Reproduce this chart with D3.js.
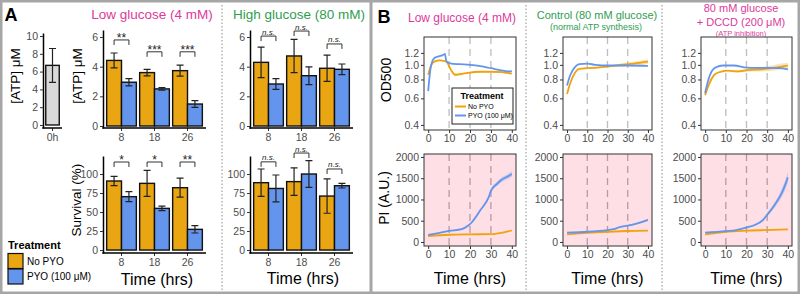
<!DOCTYPE html>
<html>
<head>
<meta charset="utf-8">
<script src="https://cdn.jsdelivr.net/npm/d3@7"></script>
<style>
  body { margin: 0; background: #fff; }
  svg { display: block; font-family: "Liberation Sans", Arial, sans-serif; }
</style>
</head>
<body>
<div id="fig"></div>
<script>
// ---------- data ----------
const groups = ['8', '18', '26'];
const treatments = ['No PYO', 'PYO (100 μM)'];

// [group, No PYO mean, sd, PYO mean, sd]
const atp0h = [['0h', 6.7, 1.9]];
const atpLow = [['8', 4.42, 0.5, 2.95, 0.24], ['18', 3.6, 0.22, 2.5, 0.08], ['26', 3.73, 0.37, 1.48, 0.23]];
const atpHigh = [['8', 4.29, 1.03, 2.83, 0.36], ['18', 4.72, 1.12, 3.39, 0.6], ['26', 3.89, 0.88, 3.82, 0.36]];
const survLow = [['8', 90.8, 6, 70.2, 6.6], ['18', 87.7, 17, 54.8, 3], ['26', 82, 12.5, 27.2, 4.8]];
const survHigh = [['8', 88.6, 18, 81, 17.7], ['18', 90, 18, 100, 17.5], ['26', 71, 22.6, 84.6, 3]];

// significance label + bracket height (data units)
const sigAtpLow = [['**', 5.8], ['***', 5.0], ['***', 5.0]];
const sigAtpHigh = [['n.s.', 6.06], ['n.s.', 6.4], ['n.s.', 5.53]];
const sigSurvLow = [['*', 115.8], ['*', 115.8], ['**', 115.8]];
const sigSurvHigh = [['n.s.', 116], ['n.s.', 127.6], ['n.s.', 106.6]];

const atpTicks = [0, 2, 4, 6];
const atp0hTicks = [0, 2, 4, 6, 8, 10];
const survTicks = [0, 25, 50, 75, 100];

// growth curves: [time (h), value, ribbon half-width]
const odLowNo = [[0, 0.86, 0.01], [1.5, 1.0, 0.01], [3, 1.05, 0.01], [5.5, 1.07, 0.01], [8, 1.06, 0.01], [9, 1.04, 0.015], [11, 0.92, 0.02], [13, 0.86, 0.02], [16, 0.87, 0.01], [19, 0.885, 0.01], [25, 0.9, 0.01], [30, 0.9, 0.01], [35, 0.895, 0.01], [40, 0.875, 0.01]];
const odLowPyo = [[0, 0.67, 0.005], [1, 0.92, 0.005], [2, 1.06, 0.005], [3, 1.11, 0.005], [5, 1.14, 0.005], [7, 1.16, 0.005], [8, 1.18, 0.005], [8.6, 1.07, 0.005], [9.2, 1.04, 0.005], [11, 1.02, 0.005], [15, 1.01, 0.005], [20, 1.0, 0.005], [25, 0.98, 0.005], [30, 0.95, 0.005], [35, 0.92, 0.005], [38, 0.905, 0.005], [40, 0.91, 0.005]];
const odCtlNo = [[0, 0.64, 0.01], [1.5, 0.75, 0.01], [4, 0.89, 0.01], [6, 0.94, 0.01], [10, 0.95, 0.01], [15, 0.96, 0.01], [20, 0.975, 0.012], [27, 1.0, 0.025], [33, 1.02, 0.03], [40, 1.05, 0.035]];
const odCtlPyo = [[0, 0.73, 0.005], [1.5, 0.85, 0.005], [4, 0.97, 0.005], [6, 1.01, 0.005], [10, 1.02, 0.005], [14, 1.0, 0.005], [20, 0.99, 0.005], [30, 0.99, 0.005], [40, 0.985, 0.005]];
const odDccdNo = [[0, 0.63, 0.01], [2, 0.75, 0.01], [4.5, 0.86, 0.01], [7.5, 0.9, 0.01], [11, 0.915, 0.01], [16, 0.905, 0.015], [21, 0.925, 0.02], [27, 0.935, 0.03], [33, 0.955, 0.04], [37, 0.975, 0.045], [40, 0.99, 0.04]];
const odDccdPyo = [[0, 0.65, 0.005], [1.5, 0.79, 0.005], [3.5, 0.92, 0.005], [6, 0.975, 0.005], [9, 0.99, 0.005], [14, 0.99, 0.005], [20, 0.96, 0.005], [25, 0.955, 0.005], [30, 0.955, 0.005], [36, 0.95, 0.008], [40, 0.935, 0.01]];

const piLowNo = [[0, 140, 5], [10, 170, 5], [20, 180, 5], [30, 185, 5], [35, 215, 5], [40, 270, 8]];
const piLowPyo = [[0, 165, 10], [5, 210, 10], [10, 260, 10], [16, 300, 15], [19, 380, 20], [21, 470, 25], [25, 750, 30], [29, 1060, 40], [30, 1200, 45], [33, 1370, 50], [35, 1460, 55], [38, 1540, 60], [40, 1600, 65]];
const piCtlNo = [[0, 180, 5], [10, 215, 5], [20, 240, 5], [30, 258, 5], [40, 267, 5]];
const piCtlPyo = [[0, 220, 8], [10, 240, 8], [20, 280, 10], [23, 300, 10], [26, 350, 12], [30, 385, 15], [33, 415, 15], [36, 455, 18], [40, 520, 25]];
const piDccdNo = [[0, 180, 5], [10, 240, 5], [20, 265, 5], [30, 280, 5], [40, 295, 5]];
const piDccdPyo = [[0, 220, 8], [10, 255, 10], [15, 280, 10], [20, 340, 15], [24, 400, 20], [28, 520, 30], [30, 640, 40], [33, 830, 60], [36.5, 1100, 90], [39, 1380, 120], [40, 1520, 130]];

const timeTicks = [0, 10, 20, 30, 40];
const odTicks = [0.4, 0.6, 0.8, 1.0, 1.2];
const piTicks = [0, 500, 1000, 1500, 2000];
const markerTimes = [10, 20, 30];

// ---------- drawing ----------
const orange = '#EAA512';
const blue = '#6495ED';
const lineOrange = '#F0A30A';
const magenta = '#DC3A9C';
const green = '#2E9E50';
const tickGray = '#4d4d4d';

const svg = d3.select('#fig').append('svg').attr('width', 800).attr('height', 294);

function text(x, y, str, o = {}) {
  const t = svg.append('text')
    .attr('x', x).attr('y', y)
    .attr('font-size', o.size || 12)
    .attr('fill', o.fill || '#000')
    .attr('text-anchor', o.anchor || 'middle')
    .text(str);
  if (o.bold) t.attr('font-weight', 700);
  if (o.italic) t.attr('font-style', 'italic');
  if (o.rotate) t.attr('transform', `rotate(-90,${x},${y})`);
  return t;
}

function barPanel(opt) {
  const g = svg.append('g');
  const y = d3.scaleLinear().domain(opt.yDomain).range([opt.yBot, opt.yTop]);
  const cats = opt.rows.map((r) => r[0]);
  const x = d3.scaleBand().domain(cats).range([opt.x0 + 2, opt.x1]).paddingInner(0.1).paddingOuter(0.05);
  const nSer = opt.fills.length;
  const sub = d3.scaleBand().domain(d3.range(nSer)).range([0, x.bandwidth()]);

  opt.rows.forEach((r) => {
    for (let i = 0; i < nSer; i++) {
      const mean = r[1 + i * 2];
      const err = r[2 + i * 2];
      const bx = x(r[0]) + sub(i);
      const cx = bx + sub.bandwidth() / 2;
      g.append('rect')
        .attr('x', bx).attr('y', y(mean))
        .attr('width', sub.bandwidth()).attr('height', y(0) - y(mean))
        .attr('fill', opt.fills[i]).attr('stroke', '#111').attr('stroke-width', 1.4);
      g.append('path')
        .attr('d', `M${cx - 3.5},${y(mean + err)}H${cx + 3.5}M${cx},${y(mean + err)}V${y(mean - err)}M${cx - 3.5},${y(mean - err)}H${cx + 3.5}`)
        .attr('fill', 'none').attr('stroke', '#222').attr('stroke-width', 1.2);
    }
  });

  (opt.sig || []).forEach(([lab, h], k) => {
    const c = cats[k];
    const xa = x(c) + sub.bandwidth() / 2;
    const xb = x(c) + sub.bandwidth() * 1.5;
    const yy = y(h);
    g.append('path')
      .attr('d', `M${xa},${yy + 5}V${yy}H${xb}V${yy + 5}`)
      .attr('fill', 'none').attr('stroke', '#333').attr('stroke-width', 1);
    const ns = lab === 'n.s.';
    g.append('text')
      .attr('x', (xa + xb) / 2).attr('y', ns ? yy - 1.5 : yy + 2)
      .attr('text-anchor', 'middle')
      .attr('font-size', ns ? 8 : 12)
      .attr('font-style', ns ? 'italic' : null)
      .attr('fill', '#222')
      .text(lab);
  });

  const ya = g.append('g').attr('transform', `translate(${opt.x0},0)`)
    .call(d3.axisLeft(y).tickValues(opt.ticks).tickFormat(d3.format('d')).tickSize(3).tickSizeOuter(0).tickPadding(2));
  ya.select('.domain').attr('stroke', '#000').attr('stroke-width', 1.5);
  ya.selectAll('.tick line').attr('stroke', '#333');
  ya.selectAll('.tick text').attr('fill', tickGray).attr('font-size', 10.5).attr('font-family', null);

  const xa = g.append('g').attr('transform', `translate(0,${opt.yBot})`)
    .call(d3.axisBottom(x).tickSize(3).tickSizeOuter(0).tickPadding(3));
  xa.select('.domain').remove();
  xa.selectAll('.tick line').attr('stroke', '#333');
  xa.selectAll('.tick text').attr('fill', tickGray).attr('font-size', 10.5).attr('font-family', null);
  g.append('line')
    .attr('x1', opt.x0 - 0.75).attr('x2', opt.x1 + 2)
    .attr('y1', opt.yBot).attr('y2', opt.yBot)
    .attr('stroke', '#000').attr('stroke-width', 1.5);
}

function linePanel(opt) {
  const g = svg.append('g');
  const b = opt.box;
  const x = d3.scaleLinear().domain([-2, 42]).range([b.x0, b.x1]);
  const y = opt.y;

  g.append('rect').attr('x', b.x0).attr('y', b.y0)
    .attr('width', b.x1 - b.x0).attr('height', b.y1 - b.y0).attr('fill', opt.bg);

  markerTimes.forEach((t) => {
    g.append('line')
      .attr('x1', x(t)).attr('x2', x(t)).attr('y1', b.y0).attr('y2', b.y1)
      .attr('stroke', opt.dashColor).attr('stroke-width', 1.3).attr('stroke-dasharray', '7,5');
  });

  opt.series.forEach((s) => {
    g.append('path').datum(s.data)
      .attr('fill', s.color).attr('opacity', 0.3)
      .attr('d', d3.area().curve(d3.curveMonotoneX)
        .x((d) => x(d[0])).y0((d) => y(d[1] - d[2])).y1((d) => y(d[1] + d[2])));
  });
  opt.series.forEach((s) => {
    g.append('path').datum(s.data)
      .attr('fill', 'none').attr('stroke', s.color).attr('stroke-width', 1.8)
      .attr('d', d3.line().curve(d3.curveMonotoneX).x((d) => x(d[0])).y((d) => y(d[1])));
  });

  g.append('rect').attr('x', b.x0).attr('y', b.y0)
    .attr('width', b.x1 - b.x0).attr('height', b.y1 - b.y0)
    .attr('fill', 'none').attr('stroke', '#333').attr('stroke-width', 1);

  const ya = g.append('g').attr('transform', `translate(${b.x0},0)`)
    .call(d3.axisLeft(y).tickValues(opt.ticks).tickFormat(opt.fmt).tickSize(3).tickPadding(2));
  ya.select('.domain').remove();
  ya.selectAll('.tick line').attr('stroke', '#333');
  ya.selectAll('.tick text').attr('fill', tickGray).attr('font-size', 10.5).attr('font-family', null);

  const xa = g.append('g').attr('transform', `translate(0,${b.y1})`)
    .call(d3.axisBottom(x).tickValues(timeTicks).tickSize(3).tickPadding(2));
  xa.select('.domain').remove();
  xa.selectAll('.tick line').attr('stroke', '#333');
  xa.selectAll('.tick text').attr('fill', tickGray).attr('font-size', 10.5).attr('font-family', null);
  return x;
}

// frame + separators
svg.append('rect').attr('x', 1.25).attr('y', 1.25).attr('width', 797.5).attr('height', 291.5)
  .attr('fill', 'none').attr('stroke', '#a6a6a6').attr('stroke-width', 2.5);
svg.append('line').attr('x1', 371).attr('x2', 371).attr('y1', 0).attr('y2', 294)
  .attr('stroke', '#a6a6a6').attr('stroke-width', 3);
[222, 526, 662].forEach((sx) => {
  svg.append('line').attr('x1', sx).attr('x2', sx).attr('y1', 5).attr('y2', 290)
    .attr('stroke', '#8c8c8c').attr('stroke-width', 1).attr('stroke-dasharray', '1.5,2');
});

// ---------- panel A ----------
text(11, 21, 'A', { size: 18, bold: true });
text(152, 19, 'Low glucose (4 mM)', { size: 13.5, fill: magenta });
text(299, 19, 'High glucose (80 mM)', { size: 13.5, fill: green });

barPanel({ rows: atp0h, fills: ['#d9d9d9'], yDomain: [-0.34, 10.34], yTop: 33, yBot: 128, x0: 43, x1: 60, ticks: atp0hTicks });
barPanel({ rows: atpLow, fills: [orange, blue], yDomain: [-0.135, 6.47], yTop: 30, yBot: 128, x0: 103, x1: 204, ticks: atpTicks, sig: sigAtpLow });
barPanel({ rows: atpHigh, fills: [orange, blue], yDomain: [-0.135, 6.47], yTop: 30, yBot: 128, x0: 250, x1: 351, ticks: atpTicks, sig: sigAtpHigh });
barPanel({ rows: survLow, fills: [orange, blue], yDomain: [-3.9, 123.7], yTop: 156, yBot: 253, x0: 103, x1: 204, ticks: survTicks, sig: sigSurvLow });
barPanel({ rows: survHigh, fills: [orange, blue], yDomain: [-3.9, 123.7], yTop: 156, yBot: 253, x0: 250, x1: 351, ticks: survTicks, sig: sigSurvHigh });

text(20, 76, '[ATP] μM', { size: 13.5, rotate: true });
text(82, 76, '[ATP] μM', { size: 13.5, rotate: true });
text(81, 200, 'Survival (%)', { size: 13.5, rotate: true });
text(157, 285, 'Time (hrs)', { size: 16 });
text(303, 284, 'Time (hrs)', { size: 16 });

// legend A
text(8, 249, 'Treatment', { size: 11, bold: true, anchor: 'start' });
[orange, blue].forEach((c, i) => {
  svg.append('rect').attr('x', 8).attr('y', 253.5 + i * 15.5).attr('width', 15).attr('height', 15)
    .attr('fill', c).attr('stroke', '#111').attr('stroke-width', 1.2);
  text(27, 264.5 + i * 15.5, treatments[i], { size: 10, anchor: 'start' });
});

// ---------- panel B ----------
text(384, 23, 'B', { size: 18, bold: true });
text(462, 22, 'Low glucose (4 mM)', { size: 12, fill: magenta });
text(597, 19, 'Control (80 mM glucose)', { size: 11, fill: green });
text(596, 30, '(normal ATP synthesis)', { size: 9, fill: green });
text(741, 12, '80 mM glucose', { size: 11, fill: magenta });
text(741, 26, '+ DCCD (200 μM)', { size: 11, fill: magenta });
text(741, 35.5, '(ATP inhibition)', { size: 7.5, fill: magenta });

const topY0 = 37, topY1 = 130, botY0 = 154, botY1 = 246;
const odY = d3.scaleLog().domain([0.37, 1.53]).range([topY1, topY0]);
const piY = d3.scaleLinear().domain([-95, 2070]).range([botY1, botY0]);
const cols = [[424, 516], [563, 652], [701, 792]];
const odSets = [[odLowNo, odLowPyo], [odCtlNo, odCtlPyo], [odDccdNo, odDccdPyo]];
const piSets = [[piLowNo, piLowPyo], [piCtlNo, piCtlPyo], [piDccdNo, piDccdPyo]];

cols.forEach(([x0, x1], i) => {
  linePanel({
    box: { x0, x1, y0: topY0, y1: topY1 }, y: odY, ticks: odTicks, fmt: d3.format('.1f'),
    bg: '#fff', dashColor: '#bdbdbd',
    series: [{ data: odSets[i][0], color: lineOrange }, { data: odSets[i][1], color: blue }],
  });
  linePanel({
    box: { x0, x1, y0: botY0, y1: botY1 }, y: piY, ticks: piTicks, fmt: d3.format('d'),
    bg: '#FDDFE5', dashColor: '#b99aa2',
    series: [{ data: piSets[i][0], color: lineOrange }, { data: piSets[i][1], color: blue }],
  });
  text((x0 + x1) / 2, 284, 'Time (hrs)', { size: 16 });
});

text(391, 80, 'OD500', { size: 14, rotate: true });
text(389, 198, 'PI (A.U.)', { size: 14, rotate: true });

// legend B (inside first OD panel)
svg.append('rect').attr('x', 452).attr('y', 88).attr('width', 61).attr('height', 36)
  .attr('fill', '#fff').attr('stroke', '#222').attr('stroke-width', 1);
text(482, 99, 'Treatment', { size: 9, bold: true });
[lineOrange, blue].forEach((c, i) => {
  svg.append('line').attr('x1', 455).attr('x2', 466).attr('y1', 106.5 + i * 9).attr('y2', 106.5 + i * 9)
    .attr('stroke', c).attr('stroke-width', 2);
  text(468, 109 + i * 9, treatments[i], { size: 7, anchor: 'start' });
});
</script>
</body>
</html>
